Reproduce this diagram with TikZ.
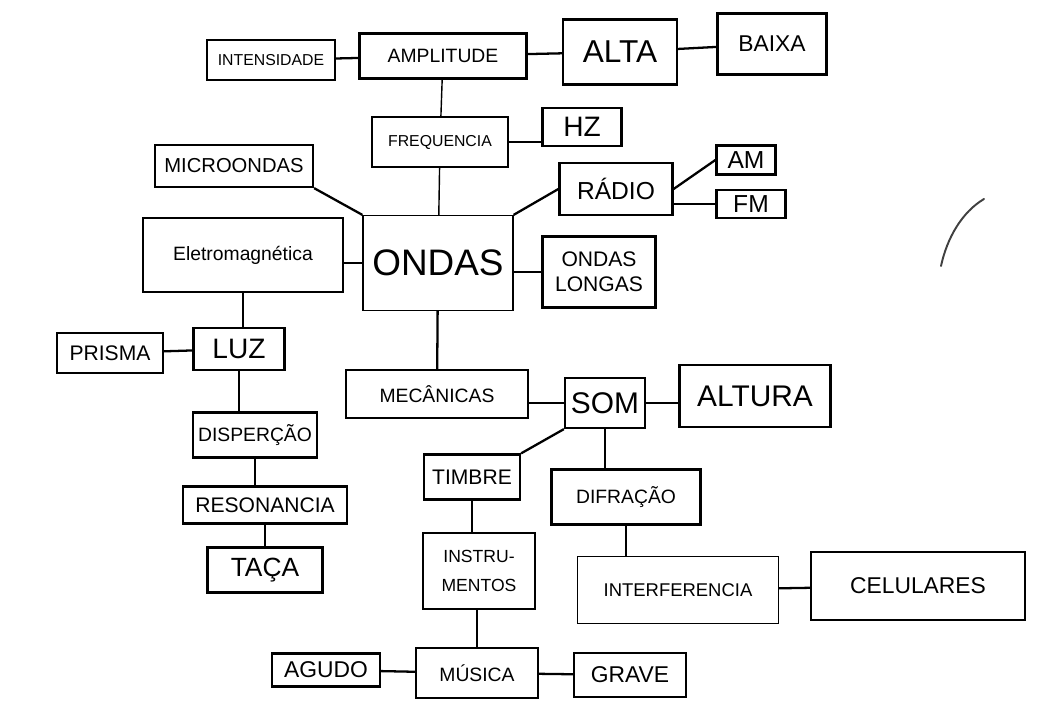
\documentclass[tikz,border=0pt]{standalone}
\usepackage{fontspec}
\setmainfont{Liberation Sans}
\usetikzlibrary{positioning}

\tikzset{
    box/.style={draw, line width=1.3pt, inner sep=1pt, align=center},
    lightbox/.style={box, line width=0.7pt},
    link/.style={line width=1.3pt},
}
\newcommand{\fsz}[1]{\fontsize{#1}{#1}\selectfont}

\begin{document}
\begin{tikzpicture}[x=0.02cm, y=-0.02cm]
    \useasboundingbox (0,0) rectangle (1045,706);

    % top row
    \node [box, minimum width=2.56cm, minimum height=0.8cm] (inten) at (271,60) {\fsz{9}INTENSIDADE};
    \node [box, minimum width=3.34cm, minimum height=0.9cm] (ampl) at (443,56) {\fsz{11}AMPLITUDE};
    \node [box, minimum width=2.28cm, minimum height=1.3cm] (alta) at (620,52) {\fsz{18}ALTA};
    \node [box, minimum width=2.18cm, minimum height=1.22cm] (baixa) at (772,44) {\fsz{13}BAIXA};

    \node [lightbox, minimum width=2.72cm, minimum height=1cm] (freq) at (440,142) {\fsz{9}FREQUENCIA};
    \node [box, minimum width=1.58cm, minimum height=0.76cm] (hz) at (582,127) {\fsz{16}HZ};

    \node [box, minimum width=3.16cm, minimum height=0.84cm] (micro) at (234,166) {\fsz{11.5}MICROONDAS};
    \node [box, minimum width=2.26cm, minimum height=1.04cm] (radio) at (616,189) {\fsz{14}RÁDIO};
    \node [box, minimum width=1.18cm, minimum height=0.58cm] (am) at (746,160) {\fsz{14}AM};
    \node [box, minimum width=1.38cm, minimum height=0.56cm] (fm) at (751,204) {\fsz{14}FM};

    % centre
    \node [lightbox, minimum width=4cm, minimum height=1.48cm] (eletro) at (243,255) {\fsz{11}Eletromagnética};
    \node [lightbox, minimum width=3cm, minimum height=1.9cm] (ondas) at (438,263) {\fsz{21}ONDAS};
    \node [box, minimum width=2.26cm, minimum height=1.42cm] (longas) at (599,272) {\fsz{12}ONDAS\\[2pt]\fsz{12}LONGAS};

    % electromagnetic branch
    \node [box, minimum width=2.12cm, minimum height=0.8cm] (prisma) at (110,353) {\fsz{12}PRISMA};
    \node [box, minimum width=1.82cm, minimum height=0.84cm] (luz) at (239,349) {\fsz{16}LUZ};
    \node [box, minimum width=2.48cm, minimum height=0.9cm] (disp) at (255,435) {\fsz{11}DISPERÇÃO};
    \node [box, minimum width=3.28cm, minimum height=0.74cm] (reso) at (265,505) {\fsz{12}RESONANCIA};
    \node [box, minimum width=2.3cm, minimum height=0.9cm] (taca) at (265,570) {\fsz{15}TAÇA};

    % mechanical branch
    \node [lightbox, minimum width=3.64cm, minimum height=0.96cm] (mec) at (437,394) {\fsz{11}MECÂNICAS};
    \node [box, minimum width=1.6cm, minimum height=1cm] (som) at (605,403) {\fsz{17}SOM};
    \node [box, minimum width=3.02cm, minimum height=1.24cm] (altura) at (755,396) {\fsz{17}ALTURA};
    \node [box, minimum width=1.92cm, minimum height=0.9cm] (timbre) at (472,477) {\fsz{12}TIMBRE};
    \node [box, minimum width=2.98cm, minimum height=1.1cm] (difr) at (626,497) {\fsz{11}DIFRAÇÃO};
    \node [box, minimum width=2.24cm, minimum height=1.52cm] (instr) at (479,571) {\fsz{10}INSTRU-\\[4pt]\fsz{10}MENTOS};
    \node [lightbox, minimum width=4.02cm, minimum height=1.34cm] (interf) at (678,590) {\fsz{10.5}INTERFERENCIA};
    \node [box, minimum width=4.28cm, minimum height=1.36cm] (celul) at (918,586) {\fsz{13}CELULARES};
    \node [box, minimum width=2.16cm, minimum height=0.66cm] (agudo) at (326,670) {\fsz{13}AGUDO};
    \node [box, minimum width=2.44cm, minimum height=1cm] (musica) at (477,673) {\fsz{11}MÚSICA};
    \node [box, minimum width=2.24cm, minimum height=0.88cm] (grave) at (630,675) {\fsz{13}GRAVE};

    % links
    \draw[link] (inten) -- (ampl);
    \draw[link] (ampl) -- (alta);
    \draw[link] (alta) -- (baixa);
    \draw[link, line width=0.8pt] (ampl) -- (freq);
    \draw[link] (freq.east) -- (freq.east -| hz.west);
    \draw[link, line width=0.8pt] (freq) -- (ondas);
    \draw[link] (micro.south east) -- (ondas.north west);
    \draw[link] (radio.west) -- (ondas.north east);
    \draw[link] (radio.east) -- (am.west);
    \draw[link] (radio.east |- fm.west) -- (fm.west);
    \draw[link] (eletro.east |- ondas) -- (ondas.west);
    \draw[link] (ondas.east |- longas) -- (longas.west);
    \draw[link] (ondas) -- (mec);
    \draw[link] (eletro) -- (eletro |- luz.north);
    \draw[link] (prisma) -- (luz);
    \draw[link] (luz) -- (luz |- disp.north);
    \draw[link] (disp) -- (disp |- reso.north);
    \draw[link] (reso) -- (taca);
    \draw[link] (mec.east |- som) -- (som.west);
    \draw[link] (som.east) -- (som.east -| altura.west);
    \draw[link] (som.south west) -- (timbre.north east);
    \draw[link] (som) -- (som |- difr.north);
    \draw[link] (timbre) -- (timbre |- instr.north);
    \draw[link] (difr) -- (difr |- interf.north);
    \draw[link] (interf) -- (celul);
    \draw[link] (musica) -- (musica |- instr.south);
    \draw[link] (agudo) -- (musica);
    \draw[link] (musica) -- (grave);

    % stray pen stroke
    \draw[line width=1.1pt, darkgray, line cap=round] (984,199) .. controls (962,212) and (947,238) .. (941,266);
\end{tikzpicture}
\end{document}
